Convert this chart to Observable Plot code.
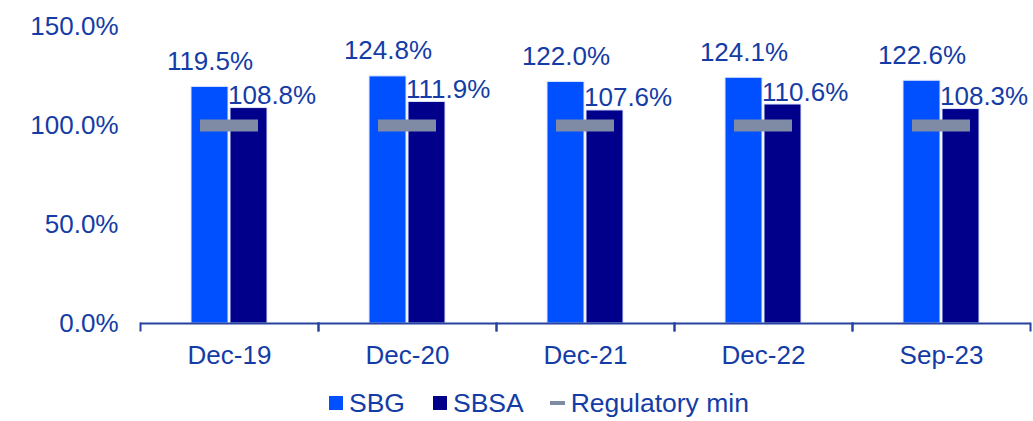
<!DOCTYPE html>
<html>
<head>
<meta charset="utf-8">
<script src="https://cdn.jsdelivr.net/npm/d3@7"></script>
<script src="https://cdn.jsdelivr.net/npm/@observablehq/plot@0.6"></script>
<style>
  html, body { margin: 0; padding: 0; background: #fff; }
  body { width: 1033px; height: 421px; overflow: hidden; font-family: "Liberation Sans", Arial, sans-serif; color: #143ca6; }
  #legend { position: relative; height: 32px; display: flex; align-items: center; padding-left: 329px; padding-top: 7px; font-size: 26.5px; line-height: 30px; }
  .sw { width: 14px; height: 14px; margin-right: 6px; }
  .ln { width: 15px; height: 4px; margin-right: 6px; }
  .item { display: flex; align-items: center; }
</style>
</head>
<body>
<div id="chart"></div>
<div id="legend"></div>
<script>
const categories = ["Dec-19", "Dec-20", "Dec-21", "Dec-22", "Sep-23"];
const series = ["SBG", "SBSA"];
const sbg = [119.5, 124.8, 122.0, 124.1, 122.6];
const sbsa = [108.8, 111.9, 107.6, 110.6, 108.3];
const regMin = [100, 100, 100, 100, 100];
const yTicks = [0, 50, 100, 150];

const colors = {SBG: "#0050ff", SBSA: "#00008b"};
const regColor = "#7f8aa5";
const textColor = "#143ca6";
const axisColor = "#2743a0";

const bars = [];
categories.forEach((c, i) => {
  bars.push({cat: c, series: "SBG", value: sbg[i]});
  bars.push({cat: c, series: "SBSA", value: sbsa[i]});
});
const reg = categories.map((c, i) => ({cat: c, value: regMin[i]}));
const fmt = d => d.toFixed(1) + "%";

const plot = Plot.plot({
  width: 1033,
  height: 380,
  marginLeft: 138,
  marginRight: 2,
  marginTop: 26,
  marginBottom: 57,
  style: {fontFamily: "'Liberation Sans', Arial, sans-serif", fontSize: "26px", color: textColor, background: "#fff"},
  fx: {domain: categories, paddingInner: 0, paddingOuter: 0, label: null},
  x: {domain: series, paddingInner: 0.05, paddingOuter: 1.26, axis: null},
  y: {domain: [0, 150], axis: null},
  color: {domain: series, range: series.map(s => colors[s])},
  marks: [
    Plot.barY(bars, {fx: "cat", x: "series", y: "value", fill: "series", stroke: "#dfe6ff", strokeWidth: 1}),
    Plot.ruleY(reg, {fx: "cat", y: "value", stroke: regColor, strokeWidth: 12, insetLeft: 60, insetRight: 60}),
    Plot.text(bars.filter(d => d.series === "SBG"), {fx: "cat", x: "series", y: "value", text: d => fmt(d.value), lineAnchor: "bottom", dy: -17, fill: textColor}),
    Plot.text(bars.filter(d => d.series === "SBSA"), {fx: "cat", x: "series", y: "value", text: d => fmt(d.value), lineAnchor: "bottom", textAnchor: "start", dx: -21, dy: -4, fill: textColor}),
    Plot.ruleY([0], {stroke: axisColor, strokeWidth: 2}),
    Plot.frame({anchor: "left", insetTop: 297, insetBottom: -7, stroke: axisColor, strokeWidth: 2}),
    Plot.frame({anchor: "right", insetTop: 297, insetBottom: -7, stroke: axisColor, strokeWidth: 2}),
    Plot.axisY({ticks: yTicks, tickFormat: fmt, tickSize: 0, tickPadding: 22, label: null, fill: textColor}),
    Plot.axisFx({anchor: "bottom", tickSize: 0, tickPadding: 22, label: null, fill: textColor})
  ]
});
document.getElementById("chart").appendChild(plot);

const legend = document.getElementById("legend");
const items = [
  {label: "SBG", kind: "sw", color: colors.SBG, gap: 28},
  {label: "SBSA", kind: "sw", color: colors.SBSA, gap: 26},
  {label: "Regulatory min", kind: "ln", color: regColor, gap: 0}
];
items.forEach(it => {
  const el = document.createElement("div");
  el.className = "item";
  el.style.marginRight = it.gap + "px";
  const m = document.createElement("div");
  m.className = it.kind;
  m.style.background = it.color;
  const t = document.createElement("span");
  t.textContent = it.label;
  el.appendChild(m);
  el.appendChild(t);
  legend.appendChild(el);
});
</script>
</body>
</html>
